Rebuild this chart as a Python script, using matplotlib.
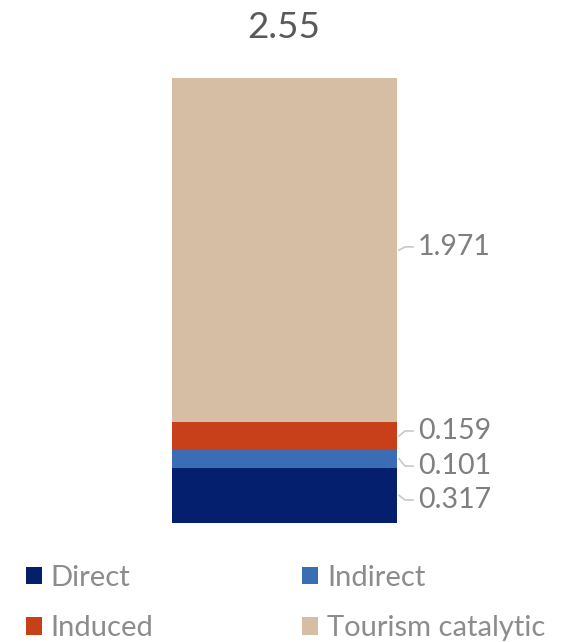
import numpy as np
import matplotlib
matplotlib.use('Agg')
import matplotlib.pyplot as plt

plt.rcParams['font.family'] = ['Lato', 'DejaVu Sans']

# data
categories = ['Direct', 'Indirect', 'Induced', 'Tourism catalytic']
values = [0.317, 0.101, 0.159, 1.971]
colors = ['#041f6e', '#3a6db3', '#c8401a', '#d6bea4']
# where the value labels sit (data units), nudged off the segment middle
label_y = [0.132, 0.326, 0.527, 1.581]

total = sum(values)

fig = plt.figure(figsize=(5.88, 6.42), dpi=100)
ax = fig.add_axes([172/588, (642-523)/642, 225/588, 445/642])

bottoms = np.concatenate([[0], np.cumsum(values)[:-1]])
bars = []
for cat, v, b, c in zip(categories, values, bottoms, colors):
    bars.append(ax.bar(0, v, width=1.0, bottom=b, color=c, label=cat))

ax.set_xlim(-0.5, 0.5)
ax.set_ylim(0, total)
ax.axis('off')

# value labels with little leader lines
px = 1/225.
for v, b, ly in zip(values, bottoms, label_y):
    mid = b + v/2
    ax.plot([0.5 + 2*px, 0.5 + 8*px, 0.5 + 16*px], [mid, ly, ly],
            color='#c8c8c8', lw=1.2, clip_on=False)
    ax.text(0.5 + 21*px, ly, f'{v:.3f}', va='center', ha='left',
            fontsize=20.5, color='#7f7f7f', clip_on=False)

# total on top
fig.text(284/588, 1 - 28/642, f'{total:.2f}', ha='center', va='center',
         fontsize=26.5, color='#595959')

# legend, two columns (matplotlib fills column-wise)
order = [0, 2, 1, 3]
fig.legend([bars[i] for i in order], [categories[i] for i in order],
           loc='upper left', bbox_to_anchor=(14/588, 1 - 553/642), ncol=2,
           frameon=False, fontsize=21, labelcolor='#8c8c8c',
           handlelength=0.55, handleheight=0.55, handletextpad=0.3,
           columnspacing=5.1, labelspacing=0.85, borderaxespad=0)

fig.savefig('out.png', dpi=100)
